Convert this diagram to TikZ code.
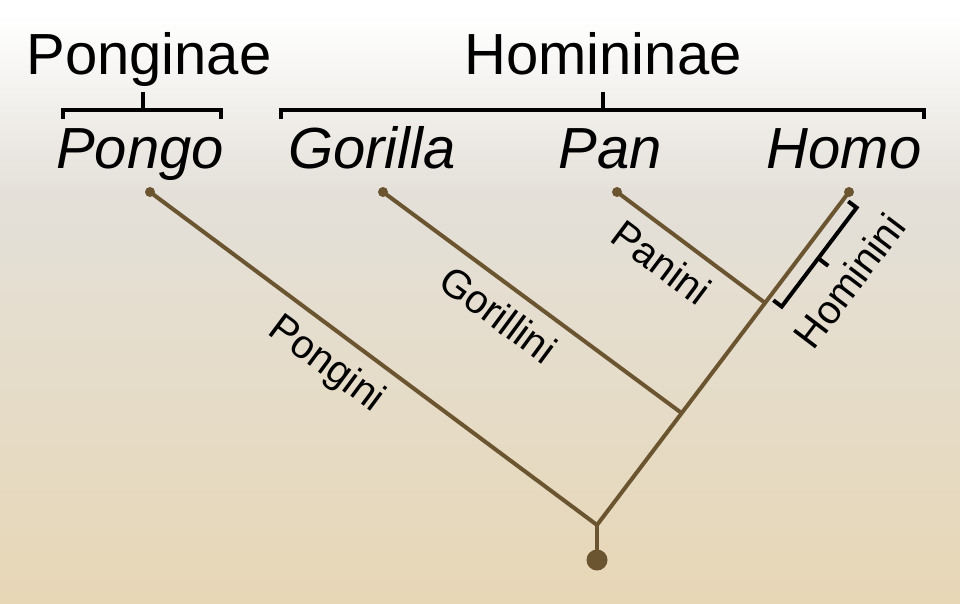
\documentclass[tikz,border=0pt]{standalone}
\usepackage{fontspec}
\setmainfont{Liberation Sans}
\usetikzlibrary{calc}
\definecolor{Ast}{RGB}{107,84,48}
\definecolor{HGgrau}{RGB}{228,224,217}
\definecolor{HGbeige}{RGB}{231,215,182}

\begin{document}
\begin{tikzpicture}[x=1pt, y=-1pt, Zweig/.style={draw=Ast, line width=4pt}, Klammer/.style={draw=black, line width=4pt}, Gruppe/.style={font=\fontsize{58}{58}\selectfont, inner sep=0pt, anchor=base}, Tribus/.style={font=\fontsize{40}{40}\selectfont, inner sep=0pt, sloped}]
				\useasboundingbox (0,0) rectangle (960,603);
				\fill[white] (0,0) rectangle (960,16);
				\shade[top color=white, bottom color=HGgrau] (0,15) rectangle (960,195);
				\shade[top color=HGgrau, bottom color=HGbeige] (0,194) rectangle (960,603);
				\coordinate (pongo) at (150,192);
				\coordinate (gorilla) at (383,192);
				\coordinate (pan) at (617,192);
				\coordinate (homo) at (849,192);
				\coordinate (root) at (597,525);
				\coordinate (wurzel) at (597,560);
				\coordinate (j1) at ($(root)!0.336!(homo)$);
				\coordinate (j2) at ($(root)!0.667!(homo)$);
				\node[Gruppe] (ponginae) at (149,74) {Ponginae};
				\node[Gruppe] (homininae) at (603,74) {Homininae};
				\node[Gruppe] (tPongo) at (140,168) {\itshape Pongo};
				\node[Gruppe] (tGorilla) at (372,168) {\itshape Gorilla};
				\node[Gruppe] (tPan) at (610,168) {\itshape Pan};
				\node[Gruppe] (tHomo) at (844,168) {\itshape Homo};
				\draw[Klammer] (63,119) -- (63,110) -- (221,110) -- (221,119);
				\draw[Klammer] (143,110) -- (143,92);
				\draw[Klammer] (281,119) -- (281,110) -- (924,110) -- (924,119);
				\draw[Klammer] (603,110) -- (603,92);
				\draw[Zweig] (pongo) -- node[Tribus, below=13pt, pos=0.438]{Pongini} (root);
				\draw[Zweig] (gorilla) -- node[Tribus, below=13pt, pos=0.445]{Gorillini} (j1);
				\draw[Zweig] (pan) -- node[Tribus, below=13pt, pos=0.42]{Panini} (j2);
				\draw[Zweig] (root) -- node[Tribus, below=37pt, pos=0.831]{Hominini} (homo);
				\draw[Zweig] (root) -- (wurzel);
				\coordinate (hk1) at ($(root)!0.981!(homo)$);
				\coordinate (hk2) at ($(root)!0.684!(homo)$);
				\coordinate (hkm) at ($(root)!0.829!(homo)$);
				\draw[Klammer] ($(hk1)!5pt!90:(root)$) -- ($(hk1)!15.5pt!90:(root)$) -- ($(hk2)!15.5pt!-90:(homo)$) -- ($(hk2)!5pt!-90:(homo)$);
				\draw[Klammer] ($(hkm)!15.5pt!90:(root)$) -- ($(hkm)!28pt!90:(root)$);
				\foreach \blatt in {pongo, gorilla, pan, homo}
					\fill[Ast] (\blatt) circle (5pt);
				\fill[Ast] (wurzel) circle (10.5pt);
			\end{tikzpicture}
\end{document}
